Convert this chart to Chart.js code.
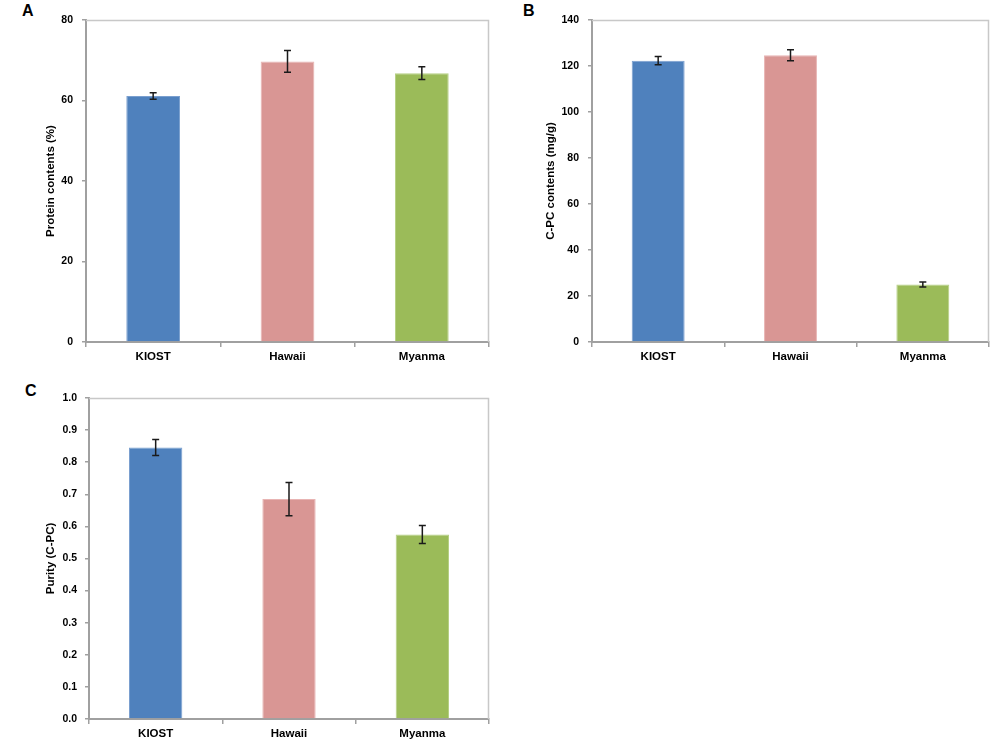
<!DOCTYPE html>
<html>
<head>
<meta charset="utf-8">
<script src="https://cdn.jsdelivr.net/npm/chart.js@4"></script>
<style>
  html, body { margin: 0; padding: 0; background: #fff; }
  body { width: 1002px; height: 749px; position: relative; overflow: hidden; font-family: "Liberation Sans", Arial, sans-serif; }
  .box { position: absolute; }
  .lbl { position: absolute; font: bold 16px "Liberation Sans", Arial, sans-serif; color: #000; }
</style>
</head>
<body>
<div class="lbl" style="left:22px;top:2px;">A</div>
<div class="lbl" style="left:523px;top:2px;">B</div>
<div class="lbl" style="left:25px;top:382px;">C</div>
<div class="box" style="left:0;top:0;width:500px;height:370px;"><canvas id="cA"></canvas></div>
<div class="box" style="left:500px;top:0;width:502px;height:370px;"><canvas id="cB"></canvas></div>
<div class="box" style="left:0;top:380px;width:500px;height:369px;"><canvas id="cC"></canvas></div>
<script>
// ---- data ----
const categories = ['KIOST', 'Hawaii', 'Myanma'];
const proteinValues = [61.1, 69.7, 66.8];
const proteinErrors = [0.8, 2.7, 1.6];
const cpcValues = [122.3, 124.7, 25.0];
const cpcErrors = [1.8, 2.4, 1.1];
const purityValues = [0.846, 0.685, 0.575];
const purityErrors = [0.025, 0.052, 0.028];
const proteinAxis = [0, 80, 20];
const cpcAxis = [0, 140, 20];
const purityAxis = [0, 1.0, 0.1];
const titles = ['Protein contents (%)', 'C-PC contents (mg/g)', 'Purity (C-PC)'];

const barColors = ['#4f81bd', '#d99694', '#9bbb59'];
const barBorders = ['#7a9fcf', '#e8b4b3', '#b5cf84'];
const FONT = '"Liberation Sans", Arial, sans-serif';

const errorBarPlugin = {
  id: 'errorBars',
  afterDatasetsDraw(chart, args, opts) {
    const ctx = chart.ctx;
    const meta = chart.getDatasetMeta(0);
    const ys = chart.scales.y;
    const vals = chart.data.datasets[0].data;
    const errs = opts.errors || [];
    ctx.save();
    ctx.strokeStyle = '#1a1a1a';
    ctx.lineWidth = 1.5;
    meta.data.forEach((bar, i) => {
      const x = bar.x;
      const yTop = ys.getPixelForValue(vals[i] + errs[i]);
      const yBot = ys.getPixelForValue(vals[i] - errs[i]);
      ctx.beginPath();
      ctx.moveTo(x, yTop); ctx.lineTo(x, yBot);
      ctx.moveTo(x - 3.5, yTop); ctx.lineTo(x + 3.5, yTop);
      ctx.moveTo(x - 3.5, yBot); ctx.lineTo(x + 3.5, yBot);
      ctx.stroke();
    });
    ctx.restore();
  }
};

const framePlugin = {
  id: 'frame',
  beforeDatasetsDraw(chart) {
    const {ctx, chartArea: a} = chart;
    ctx.save();
    ctx.strokeStyle = '#c8c8c8';
    ctx.lineWidth = 1.5;
    ctx.beginPath();
    ctx.moveTo(a.left, a.top + 0.5);
    ctx.lineTo(a.right - 0.5, a.top + 0.5);
    ctx.lineTo(a.right - 0.5, a.bottom);
    ctx.stroke();
    ctx.restore();
  }
};

function makeChart(id, values, errors, axis, title, layout, fmt) {
  const cfg = {
    type: 'bar',
    data: {
      labels: categories,
      datasets: [{
        data: values,
        backgroundColor: barColors,
        borderColor: barBorders,
        borderWidth: 1,
        barPercentage: 0.4,
        categoryPercentage: 1.0
      }]
    },
    options: {
      responsive: true,
      maintainAspectRatio: false,
      animation: false,
      layout: { padding: { top: layout.top, right: layout.right, left: 0, bottom: 0 } },
      plugins: {
        legend: { display: false },
        tooltip: { enabled: false },
        errorBars: { errors: errors }
      },
      scales: {
        x: {
          grid: { offset: true, drawOnChartArea: false, drawTicks: true, tickLength: 5, color: '#a0a0a0', lineWidth: 1.5 },
          border: { color: '#a0a0a0', width: 2 },
          ticks: { color: '#000', padding: 3, font: { family: FONT, size: 11.5, weight: 'bold' } },
          afterFit(s) { s.height = layout.xh; }
        },
        y: {
          min: axis[0], max: axis[1],
          grid: { drawOnChartArea: false, drawTicks: true, tickLength: 4, color: '#a0a0a0', lineWidth: 1.5 },
          border: { color: '#a0a0a0', width: 2 },
          ticks: {
            stepSize: axis[2], color: '#000', padding: layout.tp,
            font: { family: FONT, size: 10.5, weight: 'bold' },
            callback: fmt
          },
          title: { display: true, text: title, color: '#000', padding: { top: 44, bottom: 0 }, font: { family: FONT, size: 11.5, weight: 'bold' } },
          afterFit(s) { s.width = layout.yw; }
        }
      }
    },
    plugins: [framePlugin, errorBarPlugin]
  };
  return new Chart(document.getElementById(id), cfg);
}

makeChart('cA', proteinValues, proteinErrors, proteinAxis, titles[0],
  { top: 20, right: 11, xh: 28, yw: 86, tp: 9 }, v => String(v));
makeChart('cB', cpcValues, cpcErrors, cpcAxis, titles[1],
  { top: 20, right: 13, xh: 28, yw: 92, tp: 9 }, v => String(v));
makeChart('cC', purityValues, purityErrors, purityAxis, titles[2],
  { top: 18, right: 11, xh: 30, yw: 89, tp: 8 }, v => Number(v).toFixed(1));
</script>
</body>
</html>
